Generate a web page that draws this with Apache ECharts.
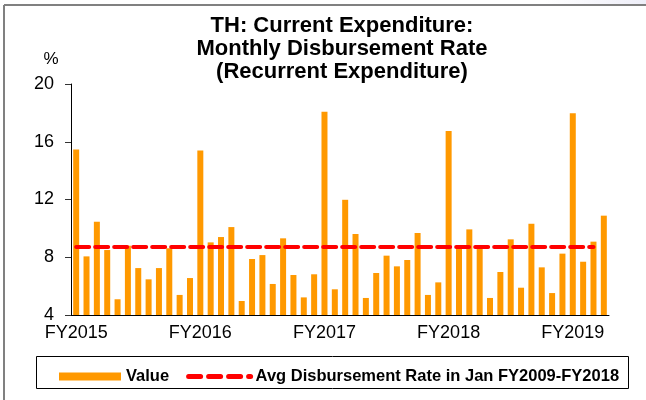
<!DOCTYPE html>
<html>
<head>
<meta charset="utf-8">
<script src="https://cdn.jsdelivr.net/npm/echarts@6/dist/echarts.min.js"></script>
<style>html,body{margin:0;padding:0;background:#fff}#c{width:646px;height:400px}</style>
</head>
<body>
<div id="c"></div>
<script>
// Months Oct 2014 (start of FY2015) .. Jan 2019
var months = [];
(function(){ var y=2014,m=10; for(var i=0;i<52;i++){ months.push(y+'-'+(m<10?'0'+m:m)); m++; if(m>12){m=1;y++;} } })();
var tickLabels = ['FY2015','FY2016','FY2017','FY2018','FY2019'];
var values = [
  15.47, 8.06, 10.46, 8.5, 5.09, 8.8, 7.25, 6.47, 7.25, 8.62, 5.39, 6.56,
  15.4, 9.03, 9.4, 10.09, 4.97, 7.88, 8.15, 6.15, 9.31, 6.77, 5.22, 6.82,
  18.08, 5.78, 11.98, 9.61, 5.18, 6.91, 8.11, 7.37, 7.81, 9.68, 5.39, 6.26,
  16.74, 8.85, 9.93, 8.78, 5.18, 6.98, 9.24, 5.89, 10.32, 7.3, 5.52, 8.25,
  17.97, 7.69, 9.08, 10.88
];
var avgRate = 8.71;
var avgLine = months.map(function(_, i){ return i < 51 ? avgRate : '-'; });
var yTicks = [4, 8, 12, 16, 20];

var chart = echarts.init(document.getElementById('c'), null, {renderer:'canvas'});
var F = 'Liberation Sans, Arial, sans-serif';
chart.setOption({
  animation: false,
  backgroundColor: '#fff',
  title: {
    text: 'TH: Current Expenditure:\nMonthly Disbursement Rate\n(Recurrent Expenditure)',
    left: 337, top: 9, textAlign: 'center',
    textStyle: {fontFamily: F, fontSize: 22, fontWeight: 'bold', color: '#000', lineHeight: 23}
  },
  grid: {left: 71, right: 37, top: 84, bottom: 85, containLabel: false},
  legend: {
    left: 54, top: 363, itemWidth: 62, itemHeight: 8, itemGap: 17,
    textStyle: {fontFamily: F, fontSize: 16.5, fontWeight: 'bold', color: '#000'},
    data: [
      {name: 'Value', icon: 'rect'},
      {name: 'Avg Disbursement Rate in Jan FY2009-FY2018',
       itemStyle: {opacity: 0},
       lineStyle: {color: '#FF0000', width: 5, type: [12, 8], cap: 'round'}}
    ]
  },
  xAxis: {
    type: 'category', data: months, boundaryGap: true,
    axisLine: {lineStyle: {color: '#000', width: 1}},
    axisTick: {interval: 11, length: 5, lineStyle: {color: '#000'}},
    axisLabel: {
      interval: 11, margin: 9, color: '#000', fontFamily: F, fontSize: 18,
      formatter: function(v, idx){ return idx % 12 === 0 ? tickLabels[idx/12] : ''; }
    }
  },
  yAxis: {
    type: 'value', min: yTicks[0], max: yTicks[yTicks.length-1], interval: 4,
    axisLine: {show: true, lineStyle: {color: '#000', width: 1}},
    axisTick: {show: true, length: 6, lineStyle: {color: '#333'}},
    axisLabel: {margin: 17, color: '#000', fontFamily: F, fontSize: 18},
    splitLine: {show: false}
  },
  series: [
    {
      name: 'Value', type: 'bar', data: values, barWidth: 6,
      itemStyle: {color: '#FF9900'}
    },
    {
      name: 'Avg Disbursement Rate in Jan FY2009-FY2018', type: 'line', data: avgLine,
      symbol: 'none', showSymbol: false, z: 5,
      lineStyle: {color: '#FF0000', width: 4, type: [13, 6], cap: 'round'},
      itemStyle: {color: '#FF0000'}
    }
  ],
  graphic: [
    {type: 'rect', left: 545, top: 0, shape: {width: 101, height: 5},
     style: {fill: new echarts.graphic.LinearGradient(0,0,1,0,[{offset:0,color:'#ffffff'},{offset:1,color:'#EEEEF8'}])}},
    {type: 'line', shape: {x1: 4, y1: 5, x2: 646, y2: 5}, style: {stroke: '#808080', lineWidth: 2}},
    {type: 'line', shape: {x1: 4, y1: 5, x2: 4, y2: 400}, style: {stroke: '#808080', lineWidth: 2}},
    {type: 'rect', shape: {x: 36.5, y: 356.5, width: 592, height: 32}, style: {fill: 'none', stroke: '#000', lineWidth: 1}, z: -1},
    {type: 'text', style: {x: 51, y: 59, text: '%', fontFamily: F, fontSize: 17, fill: '#000', textAlign: 'center', textVerticalAlign: 'middle'}}
  ]
});
</script>
</body>
</html>
